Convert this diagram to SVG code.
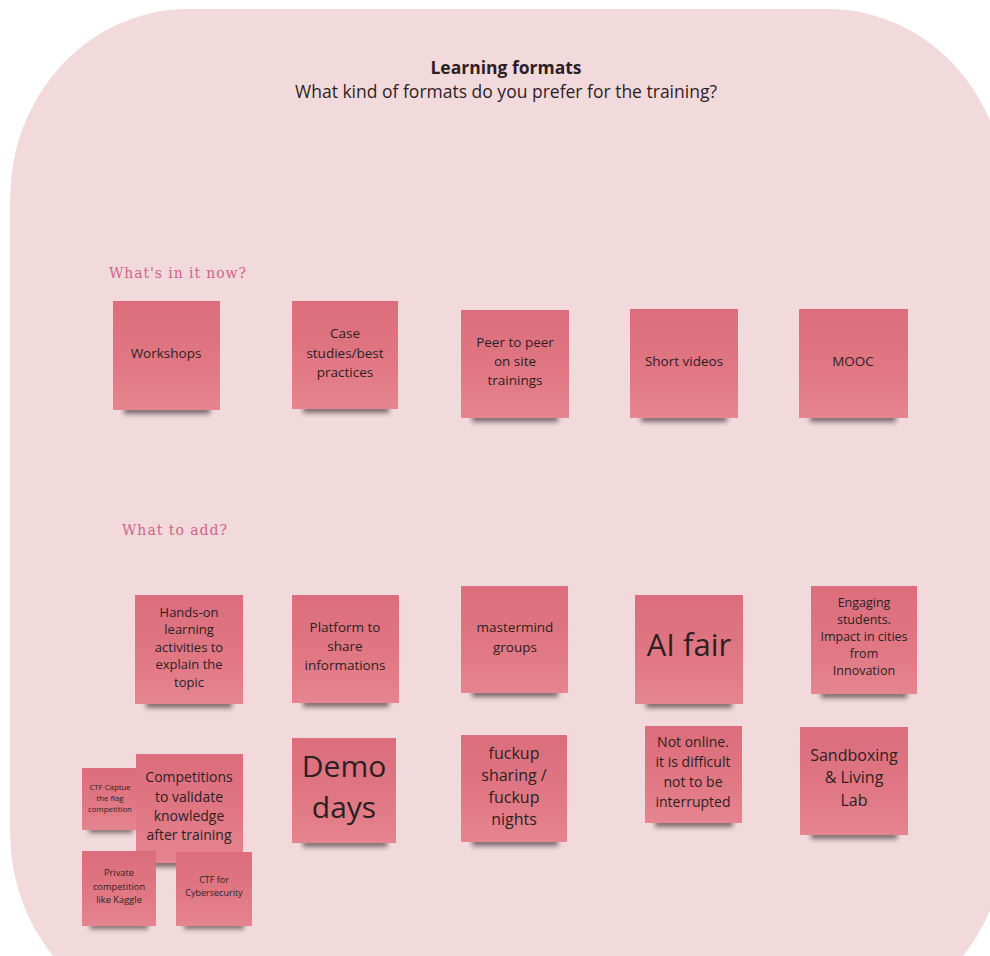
<svg xmlns="http://www.w3.org/2000/svg" width="990" height="956" viewBox="0 0 990 956">
<defs>
<linearGradient id="ng" x1="0" y1="0" x2="0" y2="1">
<stop offset="0" stop-color="#dc6d7c"/>
<stop offset="0.55" stop-color="#e07783"/>
<stop offset="1" stop-color="#e5858f"/>
</linearGradient>
<filter id="blur" x="-20%" y="-150%" width="140%" height="400%">
<feGaussianBlur stdDeviation="2.5"/>
</filter>
<style>
.note{fill:url(#ng);}
.sh{fill:#2e2224;opacity:0.6;filter:url(#blur);}
.t{font-family:"Open Sans","Noto Sans",sans-serif;fill:#2d1f23;text-anchor:middle;}
.sec{font-family:"DejaVu Serif","Liberation Serif",serif;fill:#d0648c;font-size:14px;font-weight:300;}
</style>
</defs>
<rect x="0" y="0" width="990" height="956" fill="#ffffff"/>
<rect id="frame" x="10" y="9" width="996" height="1013" rx="178" ry="190" fill="#f2d9dc"/>
<g id="header">
<text x="506" y="74" class="t" font-size="17.5" font-weight="700">Learning formats</text>
<text x="506" y="98" class="t" font-size="17.5">What kind of formats do you prefer for the training?</text>
</g>
<text id="sec1" x="109" y="278" class="sec" textLength="137">What's in it now?</text>
<text id="sec2" x="122" y="535" class="sec" textLength="105">What to add?</text>
<g id="connectors"/>

<g id="workshops">
<rect class="sh" x="124" y="406" width="86" height="8"/>
<rect class="note" x="113" y="301" width="107" height="109"/>
<text class="t" font-size="13.5" x="166" y="358">Workshops</text>
</g>
<g id="case-studies">
<rect class="sh" x="303" y="405" width="86" height="8"/>
<rect class="note" x="292" y="301" width="106" height="108"/>
<text class="t" font-size="13.5" x="345"><tspan x="345" y="338">Case</tspan><tspan x="345" y="358">studies/best</tspan><tspan x="345" y="377">practices</tspan></text>
</g>
<g id="peer-to-peer">
<rect class="sh" x="472" y="414" width="86" height="8"/>
<rect class="note" x="461" y="310" width="108" height="108"/>
<text class="t" font-size="13.5" x="515"><tspan x="515" y="347">Peer to peer</tspan><tspan x="515" y="366">on site</tspan><tspan x="515" y="385">trainings</tspan></text>
</g>
<g id="short-videos">
<rect class="sh" x="641" y="414" width="86" height="8"/>
<rect class="note" x="630" y="309" width="108" height="109"/>
<text class="t" font-size="13.5" x="684" y="366">Short videos</text>
</g>
<g id="mooc">
<rect class="sh" x="810" y="414" width="86" height="8"/>
<rect class="note" x="799" y="309" width="109" height="109"/>
<text class="t" font-size="13.5" x="853" y="366">MOOC</text>
</g>

<g id="hands-on">
<rect class="sh" x="146" y="700" width="86" height="8"/>
<rect class="note" x="135" y="595" width="108" height="109"/>
<text class="t" font-size="13" x="189"><tspan x="189" y="617">Hands-on</tspan><tspan x="189" y="634">learning</tspan><tspan x="189" y="652">activities to</tspan><tspan x="189" y="669">explain the</tspan><tspan x="189" y="687">topic</tspan></text>
</g>
<g id="platform">
<rect class="sh" x="303" y="699" width="86" height="8"/>
<rect class="note" x="292" y="595" width="107" height="108"/>
<text class="t" font-size="13.5" x="345"><tspan x="345" y="632">Platform to</tspan><tspan x="345" y="651">share</tspan><tspan x="345" y="670">informations</tspan></text>
</g>
<g id="mastermind">
<rect class="sh" x="472" y="689" width="86" height="8"/>
<rect class="note" x="461" y="586" width="107" height="107"/>
<text class="t" font-size="13.5" x="515"><tspan x="515" y="632">mastermind</tspan><tspan x="515" y="652">groups</tspan></text>
</g>
<g id="ai-fair">
<rect class="sh" x="646" y="700" width="86" height="8"/>
<rect class="note" x="635" y="595" width="108" height="109"/>
<text class="t" font-size="31" x="689" y="656">AI fair</text>
</g>
<g id="engaging">
<rect class="sh" x="821" y="690" width="86" height="8"/>
<rect class="note" x="811" y="586" width="106" height="108"/>
<text class="t" font-size="12.5" x="864"><tspan x="864" y="607">Engaging</tspan><tspan x="864" y="624">students.</tspan><tspan x="864" y="641">Impact in cities</tspan><tspan x="864" y="658">from</tspan><tspan x="864" y="675">Innovation</tspan></text>
</g>

<g id="ctf-captue">
<rect class="sh" x="89" y="826" width="44" height="7"/>
<rect class="note" x="82" y="768" width="55" height="62"/>
<text class="t" font-size="7.8" x="110"><tspan x="110" y="790">CTF Captue</tspan><tspan x="110" y="801">the flag</tspan><tspan x="110" y="812">competition</tspan></text>
</g>
<g id="competitions">
<rect class="sh" x="147" y="859" width="86" height="8"/>
<rect class="note" x="136" y="754" width="107" height="109"/>
<text class="t" font-size="14" x="189"><tspan x="189" y="782">Competitions</tspan><tspan x="189" y="802">to validate</tspan><tspan x="189" y="821">knowledge</tspan><tspan x="189" y="840">after training</tspan></text>
</g>
<g id="private">
<rect class="sh" x="90" y="922" width="58" height="7"/>
<rect class="note" x="82" y="851" width="74" height="75"/>
<text class="t" font-size="9.3" x="119"><tspan x="119" y="876">Private</tspan><tspan x="119" y="890">competition</tspan><tspan x="119" y="903">like Kaggle</tspan></text>
</g>
<g id="ctf-cyber">
<rect class="sh" x="184" y="922" width="60" height="7"/>
<rect class="note" x="176" y="852" width="76" height="74"/>
<text class="t" font-size="9" x="214"><tspan x="214" y="883">CTF for</tspan><tspan x="214" y="896">Cybersecurity</tspan></text>
</g>
<g id="demo-days">
<rect class="sh" x="303" y="839" width="84" height="8"/>
<rect class="note" x="292" y="738" width="104" height="105"/>
<text class="t" font-size="30" x="344"><tspan x="344" y="777">Demo</tspan><tspan x="344" y="818">days</tspan></text>
</g>
<g id="fuckup">
<rect class="sh" x="472" y="838" width="86" height="8"/>
<rect class="note" x="461" y="735" width="106" height="107"/>
<text class="t" font-size="16" x="514"><tspan x="514" y="759">fuckup</tspan><tspan x="514" y="781">sharing /</tspan><tspan x="514" y="803">fuckup</tspan><tspan x="514" y="825">nights</tspan></text>
</g>
<g id="not-online">
<rect class="sh" x="655" y="819" width="78" height="8"/>
<rect class="note" x="645" y="726" width="97" height="97"/>
<text class="t" font-size="14" x="693"><tspan x="693" y="747">Not online.</tspan><tspan x="693" y="767">it is difficult</tspan><tspan x="693" y="787">not to be</tspan><tspan x="693" y="807">interrupted</tspan></text>
</g>
<g id="sandboxing">
<rect class="sh" x="811" y="831" width="86" height="8"/>
<rect class="note" x="800" y="727" width="108" height="108"/>
<text class="t" font-size="16" x="854"><tspan x="854" y="761">Sandboxing</tspan><tspan x="854" y="783">&amp; Living</tspan><tspan x="854" y="806">Lab</tspan></text>
</g>
</svg>
